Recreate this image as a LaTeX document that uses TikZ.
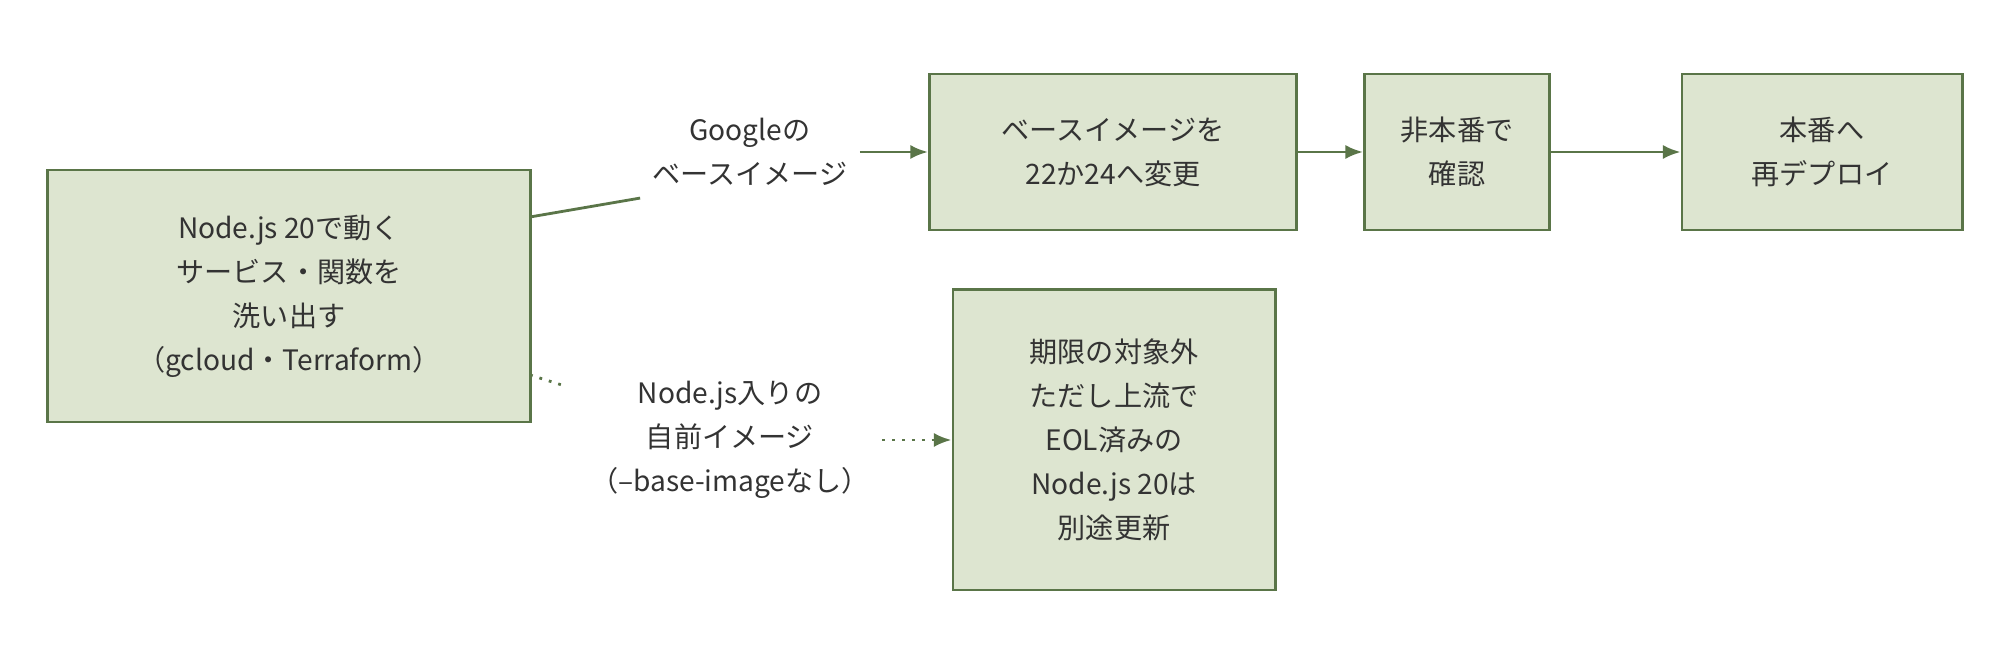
\documentclass[tikz,border=0pt]{standalone}
\usepackage{fontspec}
\setmainfont{Noto Sans CJK JP}
\usetikzlibrary{positioning,arrows.meta}
\definecolor{boxfill}{HTML}{DDE5D0}
\definecolor{boxline}{HTML}{5A7548}
\definecolor{txt}{HTML}{333333}
\tikzset{
  stage/.style={draw=boxline, fill=boxfill, thick, align=center, text=txt,
    font=\fontsize{8}{12.5}\selectfont, inner sep=0pt},
  note/.style={align=center, text=txt, font=\fontsize{8}{12.5}\selectfont},
  flow/.style={draw=boxline, thick, -{Latex[length=5pt,width=4pt]}},
  side/.style={draw=boxline, thick, dotted, -{Latex[length=5pt,width=4pt]}}
}
\begin{document}
\begin{tikzpicture}[x=0.01cm, y=-0.01cm]
  \useasboundingbox (0,0) rectangle (2010,668);

  \node[stage, minimum width=4.82cm, minimum height=2.52cm] (scan) at (289,296)
    {Node.js 20で動く\\サービス・関数を\\洗い出す\\（gcloud・Terraform）};
  \node[stage, minimum width=3.67cm, minimum height=1.56cm] (swap) at (1113,152)
    {ベースイメージを\\22か24へ変更};
  \node[stage, minimum width=1.85cm, minimum height=1.56cm] (check) at (1457,152)
    {非本番で\\確認};
  \node[stage, minimum width=2.80cm, minimum height=1.56cm] (deploy) at (1822,152)
    {本番へ\\再デプロイ};
  \node[stage, minimum width=3.22cm, minimum height=3.00cm] (own) at (1114,440)
    {期限の対象外\\ただし上流で\\EOL済みの\\Node.js 20は\\別途更新};

  \node[note] (google) at (750,152) {Googleの\\ベースイメージ};
  \node[note] (custom) at (730,440) {Node.js入りの\\自前イメージ\\（--base-imageなし）};

  \coordinate (up) at (530,217);
  \coordinate (down) at (530,375);
  \draw[draw=boxline, thick] (up) -- (google.south west);
  \draw[flow] (google.east) -- (swap.west);
  \draw[flow] (swap) -- (check);
  \draw[flow] (check) -- (deploy);
  \draw[draw=boxline, thick, dotted] (down) -- (565,386);
  \draw[side] (custom.east) -- (own.west);
\end{tikzpicture}
\end{document}
